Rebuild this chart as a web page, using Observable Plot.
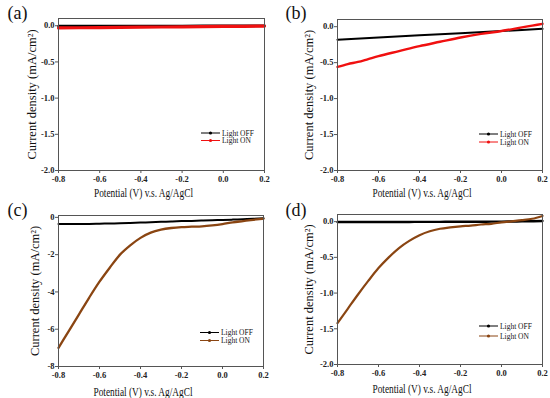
<!DOCTYPE html>
<html>
<head>
<meta charset="utf-8">
<script src="https://cdn.jsdelivr.net/npm/d3@7"></script>
<script src="https://cdn.jsdelivr.net/npm/@observablehq/plot@0.6"></script>
<style>
  html, body { margin: 0; padding: 0; background: #fff; }
  #wrap { position: relative; width: 550px; height: 398px; overflow: hidden; }
  #wrap svg { position: absolute; font-family: 'Liberation Serif', 'Times New Roman', serif; }
  #wrap svg text { font-family: 'Liberation Serif', 'Times New Roman', serif; }
</style>
</head>
<body>
<div id="wrap"></div>
<script>
// ---------- data ----------
const potentialTicks = [-0.8, -0.6, -0.4, -0.2, 0.0, 0.2];
const panelLabels = ["(a)", "(b)", "(c)", "(d)"];
const seriesNames = ["Light OFF", "Light ON"];
const xTitle = "Potential (V) v.s. Ag/AgCl";
const yTitle = "Current density (mA/cm²)";
const yTicksSmall = [0.0, -0.5, -1.0, -1.5, -2.0];
const yTicksLarge = [0, -2, -4, -6, -8];

// panel (a)
const aV   = [-0.8, -0.6, -0.4, -0.2, 0.0, 0.2];
const aOff = [-0.006, -0.005, -0.004, -0.003, -0.002, -0.001];
const aOn  = [-0.030, -0.025, -0.020, -0.015, -0.010, -0.005];

// panel (b)
const bV    = [-0.8, -0.75, -0.7, -0.65, -0.6, -0.5, -0.4, -0.3, -0.2, -0.1, 0.0, 0.1, 0.15, 0.2];
const bOn   = [-0.56, -0.52, -0.49, -0.45, -0.41, -0.34, -0.27, -0.21, -0.15, -0.10, -0.06, -0.01, 0.015, 0.04];
const bVoff = [-0.8, -0.4, 0.0, 0.2];
const bOff  = [-0.18, -0.12, -0.06, -0.03];

// panel (c)
const cV   = [-0.8, -0.75, -0.7, -0.65, -0.6, -0.55, -0.5, -0.45, -0.4, -0.35, -0.3, -0.25, -0.2, -0.15, -0.1, -0.05, 0.0, 0.05, 0.1, 0.15, 0.2];
const cOn  = [-7.0, -6.1, -5.2, -4.3, -3.45, -2.7, -2.0, -1.5, -1.1, -0.82, -0.66, -0.57, -0.52, -0.50, -0.48, -0.43, -0.36, -0.27, -0.20, -0.13, -0.07];
const cOff = [-0.36, -0.36, -0.35, -0.35, -0.34, -0.33, -0.32, -0.30, -0.28, -0.26, -0.24, -0.22, -0.20, -0.19, -0.17, -0.15, -0.14, -0.12, -0.10, -0.08, -0.05];

// panel (d)
const dV   = cV;
const dOn  = [-1.42, -1.22, -1.02, -0.83, -0.65, -0.50, -0.37, -0.27, -0.19, -0.135, -0.10, -0.08, -0.065, -0.055, -0.04, -0.03, -0.01, 0.005, 0.02, 0.04, 0.08];
const dOff = [-0.006, -0.006, -0.005, -0.005, -0.005, -0.004, -0.004, -0.004, -0.003, -0.003, -0.003, -0.002, -0.002, -0.001, -0.001, 0.0, 0.0, 0.002, 0.004, 0.006, 0.01];

// ---------- drawing ----------
const serif = "Liberation Serif";
const toRows = (xs, ys) => xs.map((v, i) => ({v, j: ys[i]}));

const panels = [
  {label: panelLabels[0], left: 0, top: 0, width: 275, height: 198, ml: 58, mr: 11, mt: 18, mb: 28,
   off: toRows(aV, aOff), on: toRows(aV, aOn), onColor: "#f01010", offW: 2.6, onW: 3.2,
   yDomain: [-2.0, 0.1], yTicks: yTicksSmall, yFmt: d => d.toFixed(1), ylabX: 31, xlabDy: 26, legDy: [37, 29.5]},
  {label: panelLabels[1], left: 275, top: 0, width: 275, height: 198, ml: 62, mr: 8, mt: 19, mb: 28,
   off: toRows(bVoff, bOff), on: toRows(bV, bOn), onColor: "#f01010", offW: 2, onW: 2.4,
   yDomain: [-2.0, 0.1], yTicks: yTicksSmall, yFmt: d => d.toFixed(1), ylabX: 33, xlabDy: 26, legDy: [36, 28]},
  {label: panelLabels[2], left: 0, top: 198, width: 275, height: 200, ml: 58, mr: 12, mt: 17, mb: 32,
   off: toRows(cV, cOff), on: toRows(cV, cOn), onColor: "#8a4512", offW: 2, onW: 2.3,
   yDomain: [-8, 0.1], yTicks: yTicksLarge, yFmt: d => String(d), ylabX: 34, xlabDy: 29, legDy: [33.5, 25.5]},
  {label: panelLabels[3], left: 275, top: 198, width: 275, height: 200, ml: 62, mr: 8, mt: 16, mb: 34,
   off: toRows(dV, dOff), on: toRows(dV, dOn), onColor: "#8a4512", offW: 2.4, onW: 2.2,
   yDomain: [-2.0, 0.1], yTicks: yTicksSmall, yFmt: d => d.toFixed(1), ylabX: 33, xlabDy: 28, legDy: [38, 28]}
];

const wrap = document.getElementById("wrap");

for (const p of panels) {
  const svg = Plot.plot({
    width: p.width,
    height: p.height,
    marginLeft: p.ml, marginRight: p.mr, marginTop: p.mt, marginBottom: p.mb,
    style: {fontFamily: serif, fontSize: "8.5px", fontWeight: "bold", color: "#222", background: "transparent", overflow: "visible"},
    x: {domain: [-0.8, 0.2]},
    y: {domain: p.yDomain},
    marks: [
      Plot.line(p.off, {x: "v", y: "j", stroke: "#000", strokeWidth: p.offW, curve: "monotone-x"}),
      Plot.line(p.on, {x: "v", y: "j", stroke: p.onColor, strokeWidth: p.onW, curve: "monotone-x"}),
      Plot.frame({stroke: "#555", strokeWidth: 1}),
      Plot.axisX({ticks: potentialTicks, tickFormat: d => d.toFixed(1), tickSize: 3, tickPadding: 2, label: null,
        stroke: "#555", fontFamily: serif, fontSize: 8.5, fontWeight: "bold", fill: "#222"}),
      Plot.axisY({ticks: p.yTicks, tickFormat: p.yFmt, tickSize: 3, tickPadding: 1, label: null,
        stroke: "#555", fontFamily: serif, fontSize: 8.5, fontWeight: "bold", fill: "#222"}),
      Plot.text([xTitle], {text: d => d, frameAnchor: "bottom", lineAnchor: "bottom", textAnchor: "middle", dy: p.xlabDy, dx: -18,
        fontFamily: serif, fontSize: 13, fontWeight: "normal", fill: "#111"}),
      Plot.text([yTitle], {text: d => d, frameAnchor: "left", textAnchor: "middle", rotate: -90, dx: p.ylabX - p.ml,
        fontFamily: serif, fontSize: 12.5, fontWeight: "normal", fill: "#111", lineAnchor: "middle"}),
      Plot.text([p.label], {text: d => d, frameAnchor: "top-left", textAnchor: "start", lineAnchor: "bottom",
        dx: (p.left ? 10 : 7) - p.ml, dy: (p.top ? 215 - p.top : 18) - p.mt,
        fontFamily: serif, fontSize: 18, fontWeight: "normal", fill: "#111"})
    ]
  });
  svg.style.left = p.left + "px";
  svg.style.top = p.top + "px";
  wrap.appendChild(svg);

  // horizontally condensed axis title, as in the reference
  d3.select(svg).selectAll("text").filter(function () { return this.textContent === xTitle; })
    .attr("textLength", 99).attr("lengthAdjust", "spacingAndGlyphs");

  // legend inside the frame, bottom right
  const fr = p.width - p.mr;
  const fb = p.height - p.mb;
  const g = d3.select(svg).append("g").attr("font-family", serif).attr("font-size", 7.5)
    .attr("font-weight", "normal").attr("text-anchor", "start");
  seriesNames.forEach((name, i) => {
    const col = i === 0 ? "#000" : p.onColor;
    const y = fb - p.legDy[i];
    g.append("line").attr("x1", fr - 63).attr("x2", fr - 44).attr("y1", y).attr("y2", y)
      .attr("stroke", col).attr("stroke-width", 1);
    g.append("circle").attr("cx", fr - 53.5).attr("cy", y).attr("r", 1.6).attr("fill", col);
    g.append("text").attr("x", fr - 42).attr("y", y + 2.6).attr("fill", "#111").attr("text-anchor", "start").text(name);
  });
}
</script>
</body>
</html>
